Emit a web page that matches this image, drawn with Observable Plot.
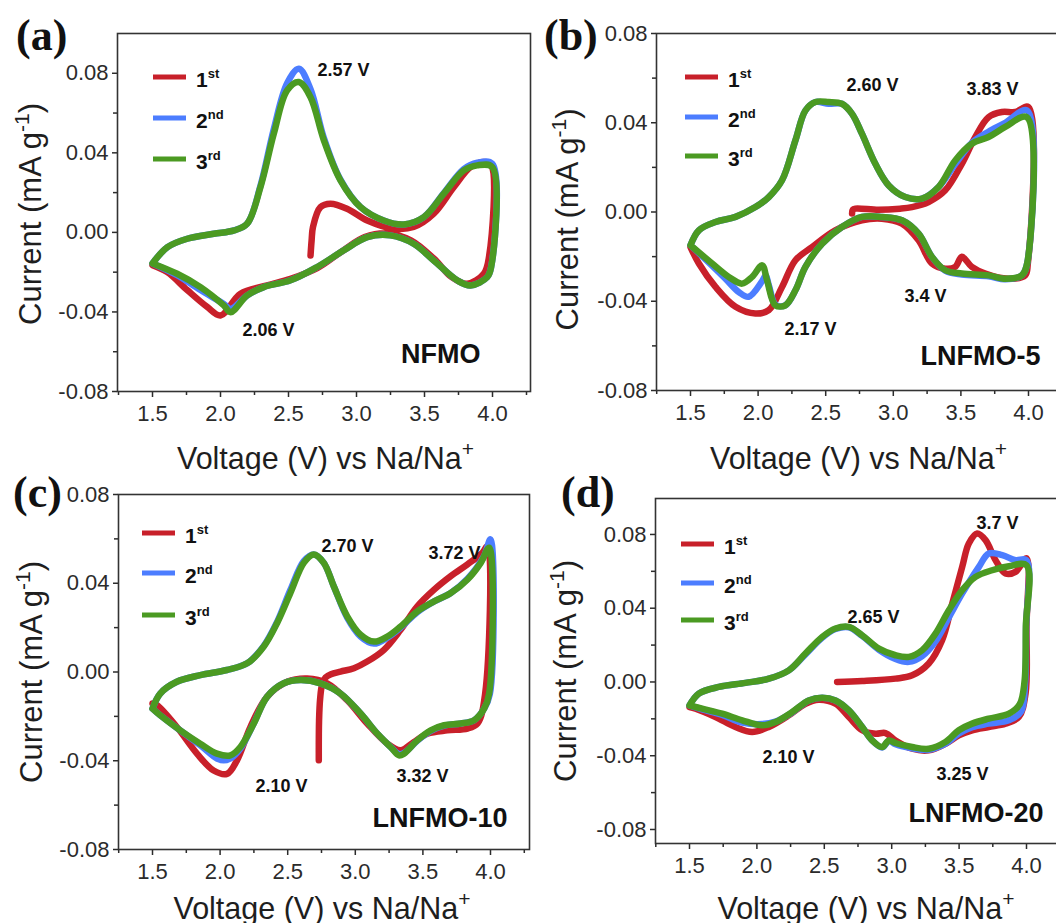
<!DOCTYPE html>
<html><head><meta charset="utf-8">
<script src="https://cdn.jsdelivr.net/npm/d3@7"></script>
<script src="https://cdn.jsdelivr.net/npm/@observablehq/plot@0.6"></script>
<style>
body{margin:0;background:#fff}
#fig{position:relative;width:1056px;height:923px;overflow:hidden;background:#fff;font-family:"Liberation Sans",Arial,sans-serif}
</style></head><body><div id="fig"></div>
<script>
// ---------- tick values / labels ----------
const xMajor = [1.5, 2.0, 2.5, 3.0, 3.5, 4.0];
const xMinor = [1.25, 1.75, 2.25, 2.75, 3.25, 3.75, 4.25];
const yMajor = [-0.08, -0.04, 0, 0.04, 0.08];
const yMinor = [-0.06, -0.02, 0.02, 0.06];
const cycleNames = ["1st", "2nd", "3rd"];
const cycleColors = ["#c8202a", "#4c7dff", "#4b9a22"];
const xLabel = "Voltage (V) vs Na/Na^{+}";
const yLabel = "Current (mA g^{-1})";

// ---------- (a) NFMO : [voltage V, current mA g-1] ----------
const a1 = [[2.662,-0.0116],[2.67,-0.004],[2.68,0.0027],[2.735,0.0127],[2.809,0.0144],[2.93,0.0119],[3.079,0.006],[3.274,0.0019],[3.42,0.0027],[3.568,0.0094],[3.716,0.0228],[3.838,0.0328],[3.936,0.0354],[3.99,0.034],[3.975,-0.012],[3.936,-0.0208],[3.814,-0.0258],[3.70,-0.0225],[3.568,-0.0131],[3.40,-0.004],[3.23,-0.0005],[3.06,-0.0024],[2.90,-0.0092],[2.711,-0.018],[2.515,-0.0234],[2.343,-0.0267],[2.147,-0.0308],[2.00,-0.0418],[1.902,-0.0375],[1.755,-0.029],[1.608,-0.020],[1.50,-0.0165]];
const a2 = [[1.50,-0.0156],[1.61,-0.0074],[1.755,-0.0032],[1.95,-0.0007],[2.10,0.0010],[2.196,0.0044],[2.294,0.0235],[2.392,0.052],[2.49,0.075],[2.576,0.0823],[2.662,0.072],[2.76,0.0475],[2.882,0.0265],[3.03,0.0127],[3.20,0.006],[3.348,0.004],[3.495,0.0077],[3.642,0.0198],[3.789,0.0318],[3.888,0.035],[3.998,0.0345],[3.99,-0.0174],[3.961,-0.0225],[3.838,-0.0267],[3.74,-0.0241],[3.568,-0.0141],[3.42,-0.0057],[3.25,-0.0015],[3.079,-0.0024],[2.907,-0.009],[2.711,-0.0174],[2.515,-0.0241],[2.318,-0.0275],[2.196,-0.0317],[2.074,-0.0385],[2.024,-0.036],[1.853,-0.029],[1.681,-0.0215],[1.50,-0.0156]];
const a3 = [[1.50,-0.0156],[1.61,-0.0074],[1.755,-0.0032],[1.95,-0.0007],[2.10,0.0010],[2.196,0.0044],[2.294,0.0228],[2.392,0.0496],[2.49,0.0714],[2.576,0.0756],[2.662,0.068],[2.76,0.0463],[2.882,0.0262],[3.03,0.0127],[3.20,0.006],[3.348,0.004],[3.495,0.0077],[3.642,0.0195],[3.789,0.0312],[3.888,0.0337],[3.998,0.0328],[3.99,-0.0174],[3.961,-0.0225],[3.838,-0.0267],[3.74,-0.0241],[3.568,-0.0141],[3.42,-0.0057],[3.25,-0.0015],[3.079,-0.0024],[2.907,-0.009],[2.711,-0.0174],[2.515,-0.0241],[2.318,-0.0275],[2.196,-0.0317],[2.074,-0.0401],[2.024,-0.0367],[1.853,-0.0275],[1.681,-0.0208],[1.50,-0.0156]];
const annA = [{v:2.904,i:0.0815,t:"2.57 V"},{v:2.353,i:-0.0493,t:"2.06 V"}];
const nameA = [{v:3.912,i:-0.0659,t:"NFMO"}];

// ---------- (b) LNFMO-5 ----------
const b1 = [[2.695,-0.0007],[2.70,0.0010],[2.72,0.0015],[2.89,0.001],[3.05,0.0015],[3.138,0.0022],[3.261,0.0045],[3.384,0.0097],[3.507,0.0216],[3.606,0.0336],[3.704,0.0425],[3.803,0.0448],[3.901,0.0448],[4.0,0.047],[3.995,-0.0231],[3.975,-0.0284],[3.85,-0.0299],[3.68,-0.0276],[3.581,-0.0246],[3.507,-0.0201],[3.458,-0.0246],[3.384,-0.0254],[3.286,-0.0231],[3.187,-0.0127],[3.064,-0.0052],[2.916,-0.003],[2.768,-0.0037],[2.571,-0.0082],[2.399,-0.0157],[2.276,-0.0216],[2.177,-0.0336],[2.079,-0.044],[1.98,-0.0455],[1.833,-0.0425],[1.685,-0.0336],[1.562,-0.0231],[1.50,-0.0157]];
const b2 = [[1.50,-0.0149],[1.562,-0.0082],[1.685,-0.0045],[1.833,-0.0022],[1.98,0.0022],[2.079,0.0067],[2.177,0.0142],[2.276,0.0321],[2.35,0.0455],[2.424,0.0493],[2.522,0.0485],[2.62,0.0485],[2.695,0.044],[2.768,0.0351],[2.867,0.0216],[2.966,0.0119],[3.089,0.0067],[3.212,0.006],[3.335,0.0112],[3.458,0.0215],[3.581,0.031],[3.704,0.036],[3.828,0.040],[3.99,0.0455],[3.99,-0.0231],[3.951,-0.0284],[3.828,-0.0301],[3.704,-0.0288],[3.507,-0.028],[3.384,-0.0263],[3.286,-0.0201],[3.187,-0.0097],[3.064,-0.0037],[2.916,-0.0022],[2.768,-0.0022],[2.62,-0.0067],[2.473,-0.0142],[2.35,-0.0246],[2.276,-0.0351],[2.202,-0.0418],[2.128,-0.0415],[2.08,-0.033],[2.055,-0.0285],[2.03,-0.031],[1.93,-0.038],[1.86,-0.036],[1.76,-0.030],[1.65,-0.0235],[1.50,-0.0149]];
const b3 = [[1.50,-0.0149],[1.562,-0.0082],[1.685,-0.0045],[1.833,-0.0022],[1.98,0.0022],[2.079,0.0067],[2.177,0.0142],[2.276,0.0321],[2.35,0.0455],[2.424,0.0493],[2.522,0.0493],[2.62,0.0485],[2.695,0.044],[2.768,0.0351],[2.867,0.0216],[2.966,0.0119],[3.089,0.0067],[3.212,0.006],[3.335,0.0112],[3.458,0.0231],[3.581,0.0306],[3.704,0.0336],[3.828,0.0381],[3.988,0.0425],[3.99,-0.0231],[3.951,-0.0284],[3.828,-0.0299],[3.704,-0.0284],[3.507,-0.0276],[3.384,-0.0261],[3.286,-0.0201],[3.187,-0.0097],[3.064,-0.0037],[2.916,-0.0022],[2.768,-0.0022],[2.62,-0.0067],[2.473,-0.0142],[2.35,-0.0246],[2.276,-0.0351],[2.202,-0.0418],[2.128,-0.0418],[2.066,-0.0306],[2.03,-0.0239],[1.956,-0.0291],[1.882,-0.0321],[1.783,-0.0291],[1.66,-0.0231],[1.50,-0.0149]];
const annB = [{v:2.846,i:0.0569,t:"2.60 V"},{v:3.734,i:0.0551,t:"3.83 V"},{v:2.388,i:-0.0524,t:"2.17 V"},{v:3.238,i:-0.0377,t:"3.4 V"}];
const nameB = [{v:4.089,i:-0.0686,t:"LNFMO-5"}];

// ---------- (c) LNFMO-10 ----------
const c1 = [[2.73,-0.0398],[2.732,-0.0217],[2.74,-0.012],[2.755,-0.0055],[2.78,-0.0025],[2.82,-0.001],[2.891,0.0002],[2.99,0.0017],[3.088,0.0047],[3.212,0.01],[3.335,0.019],[3.459,0.0296],[3.583,0.0371],[3.706,0.0432],[3.83,0.0485],[3.94,0.0537],[3.978,0.0568],[3.96,-0.01],[3.904,-0.0232],[3.83,-0.0255],[3.681,-0.0263],[3.533,-0.0278],[3.434,-0.0315],[3.335,-0.0353],[3.237,-0.0323],[3.088,-0.0232],[2.94,-0.0127],[2.792,-0.0051],[2.644,-0.0029],[2.496,-0.0044],[2.347,-0.0112],[2.224,-0.0248],[2.125,-0.0398],[2.051,-0.0459],[1.952,-0.0444],[1.829,-0.0368],[1.68,-0.0248],[1.532,-0.0149],[1.50,-0.0142]];
const c2 = [[1.50,-0.0165],[1.557,-0.0097],[1.68,-0.0044],[1.853,-0.0014],[2.05,0.0009],[2.20,0.0039],[2.323,0.0118],[2.421,0.0225],[2.52,0.037],[2.619,0.050],[2.693,0.053],[2.767,0.0492],[2.841,0.0386],[2.94,0.0245],[3.039,0.016],[3.138,0.0128],[3.237,0.0155],[3.335,0.020],[3.459,0.027],[3.583,0.0318],[3.706,0.0356],[3.83,0.042],[3.95,0.052],[4.0,0.0598],[3.995,-0.01],[3.953,-0.0165],[3.879,-0.0217],[3.78,-0.0232],[3.657,-0.0242],[3.558,-0.0266],[3.459,-0.031],[3.36,-0.0365],[3.323,-0.037],[3.261,-0.0338],[3.163,-0.0278],[3.039,-0.0187],[2.891,-0.0097],[2.743,-0.0051],[2.594,-0.0036],[2.471,-0.0051],[2.347,-0.0112],[2.249,-0.0232],[2.15,-0.0345],[2.076,-0.039],[2.026,-0.0398],[1.977,-0.039],[1.853,-0.033],[1.705,-0.0263],[1.557,-0.0195],[1.50,-0.0165]];
const c3 = [[1.50,-0.0165],[1.557,-0.0097],[1.68,-0.0044],[1.853,-0.0014],[2.05,0.0009],[2.20,0.0039],[2.323,0.0115],[2.421,0.022],[2.52,0.0356],[2.619,0.0492],[2.693,0.053],[2.767,0.0492],[2.841,0.0386],[2.94,0.0251],[3.039,0.0168],[3.138,0.0137],[3.237,0.016],[3.335,0.0205],[3.459,0.0273],[3.583,0.0318],[3.706,0.0356],[3.83,0.0417],[3.928,0.0492],[3.99,0.056],[3.99,-0.0097],[3.953,-0.0165],[3.879,-0.0217],[3.78,-0.0232],[3.657,-0.024],[3.558,-0.0263],[3.459,-0.0308],[3.36,-0.0368],[3.323,-0.0376],[3.261,-0.0338],[3.163,-0.0278],[3.039,-0.0187],[2.891,-0.0097],[2.743,-0.0051],[2.594,-0.0036],[2.471,-0.0051],[2.347,-0.0112],[2.249,-0.0232],[2.15,-0.0338],[2.076,-0.0376],[1.977,-0.0368],[1.853,-0.0323],[1.705,-0.0263],[1.557,-0.0195],[1.50,-0.0165]];
const annC = [{v:2.942,i:0.0568,t:"2.70 V"},{v:3.734,i:0.0536,t:"3.72 V"},{v:2.454,i:-0.0514,t:"2.10 V"},{v:3.497,i:-0.0469,t:"3.32 V"}];
const nameC = [{v:4.126,i:-0.0699,t:"LNFMO-10"}];

// ---------- (d) LNFMO-20 ----------
const d1 = [[2.595,0.0],[2.781,0.0005],[3.028,0.0018],[3.152,0.0036],[3.275,0.01],[3.374,0.0226],[3.449,0.0425],[3.523,0.0624],[3.572,0.0751],[3.634,0.0805],[3.696,0.0769],[3.77,0.0661],[3.844,0.0588],[3.918,0.0597],[4.0,0.067],[4.0,0.03],[3.993,-0.0063],[3.943,-0.019],[3.844,-0.0226],[3.72,-0.0244],[3.597,-0.0262],[3.498,-0.029],[3.399,-0.0335],[3.275,-0.0371],[3.152,-0.0362],[3.028,-0.0317],[2.954,-0.0277],[2.88,-0.0281],[2.781,-0.0262],[2.682,-0.019],[2.583,-0.0118],[2.459,-0.0096],[2.36,-0.0118],[2.237,-0.0181],[2.089,-0.0244],[1.965,-0.0271],[1.841,-0.0244],[1.693,-0.019],[1.545,-0.0145],[1.50,-0.0136]];
const d2 = [[1.50,-0.0127],[1.569,-0.0063],[1.718,-0.0027],[1.915,-0.0005],[2.089,0.0018],[2.237,0.0063],[2.36,0.015],[2.484,0.024],[2.583,0.0287],[2.682,0.0297],[2.781,0.025],[2.905,0.0175],[3.028,0.0125],[3.127,0.0109],[3.226,0.014],[3.325,0.022],[3.424,0.035],[3.523,0.048],[3.647,0.0624],[3.72,0.0697],[3.82,0.0688],[3.918,0.066],[4.0,0.066],[3.997,0.03],[3.99,0.0],[3.96,-0.016],[3.869,-0.0208],[3.72,-0.0226],[3.597,-0.0245],[3.498,-0.028],[3.399,-0.0335],[3.275,-0.0368],[3.152,-0.036],[3.028,-0.0338],[2.979,-0.032],[2.929,-0.0355],[2.855,-0.0317],[2.781,-0.0244],[2.682,-0.0154],[2.583,-0.01],[2.484,-0.0085],[2.385,-0.01],[2.262,-0.0165],[2.138,-0.0215],[2.039,-0.0228],[1.891,-0.022],[1.742,-0.0178],[1.594,-0.0148],[1.50,-0.0127]];
const d3v = [[1.50,-0.0127],[1.569,-0.0063],[1.718,-0.0027],[1.915,-0.0005],[2.089,0.0018],[2.237,0.0063],[2.36,0.0154],[2.484,0.0244],[2.583,0.029],[2.682,0.0299],[2.781,0.0253],[2.905,0.0181],[3.028,0.0145],[3.127,0.0136],[3.226,0.0172],[3.325,0.0262],[3.424,0.0389],[3.523,0.0498],[3.622,0.057],[3.745,0.0606],[3.869,0.0628],[4.0,0.0633],[3.995,0.03],[3.985,0.0],[3.95,-0.012],[3.87,-0.0172],[3.72,-0.0199],[3.597,-0.0226],[3.498,-0.0262],[3.399,-0.0326],[3.275,-0.0362],[3.152,-0.0353],[3.028,-0.0331],[2.979,-0.0317],[2.929,-0.0353],[2.855,-0.0317],[2.781,-0.0244],[2.682,-0.0154],[2.583,-0.01],[2.484,-0.0085],[2.385,-0.01],[2.262,-0.0163],[2.138,-0.0217],[2.039,-0.0235],[1.891,-0.0208],[1.742,-0.0172],[1.594,-0.0145],[1.50,-0.0127]];
const annD = [{v:3.785,i:0.0862,t:"3.7 V"},{v:2.865,i:0.0353,t:"2.65 V"},{v:2.234,i:-0.0407,t:"2.10 V"},{v:3.525,i:-0.0499,t:"3.25 V"}];
const nameD = [{v:4.126,i:-0.0759,t:"LNFMO-20"}];

// ---------- layout ----------
const panels = [
  {id:"a", cycles:[a1,a2,a3], ann:annA, name:nameA, left:0, top:0, ml:117, mt:33, pw:413, ph:358, mb:80,
   xdom:[1.2426,4.2794], ydom:[-0.08,0.1], xl:{dx:1.5,dy:77}, yl:{dx:-86,dy:1.5}, leg:{x:153,y:[77,118,159]}, letter:{x:16,y:50}},
  {id:"b", cycles:[b1,b2,b3], ann:annB, name:nameB, left:528, top:0, ml:128, mt:33, pw:402, ph:357, mb:80,
   xdom:[1.2485,4.2219], ydom:[-0.08,0.08], xl:{dx:1,dy:78}, yl:{dx:-88,dy:7.5}, leg:{x:685,y:[77,117,156]}, letter:{x:544,y:50}},
  {id:"c", cycles:[c1,c2,c3], ann:annC, name:nameC, left:0, top:460, ml:118, mt:34, pw:411, ph:355, mb:74,
   xdom:[1.2485,4.2885], ydom:[-0.08,0.08], xl:{dx:-2,dy:69}, yl:{dx:-86,dy:0}, leg:{x:142,y:[533,573,615]}, letter:{x:13,y:507}},
  {id:"d", cycles:[d1,d2,d3v], ann:annD, name:nameD, left:528, top:460, ml:127, mt:38, pw:405, ph:345, mb:80,
   xdom:[1.2478,4.2522], ydom:[-0.0876,0.0995], xl:{dx:8,dy:75}, yl:{dx:-89,dy:0}, leg:{x:681,y:[544,583,620]}, letter:{x:561,y:507}}
];

const fig = document.getElementById("fig");
const axisColor = "#2b2b2b";

function supify(svg){
  d3.select(svg).selectAll("text").each(function(){
    const t = this.textContent;
    const m = t.match(/^(.*)\^\{(.*)\}(.*)$/);
    if (!m) return;
    const el = d3.select(this);
    el.text(null);
    el.append("tspan").text(m[1]);
    el.append("tspan").attr("dy", -12.5).attr("font-size", 21).text(m[2]);
    if (m[3]) el.append("tspan").attr("dy", 12.5).text(m[3]);
  });
}

panels.forEach(p => {
  const inX = v => v >= p.xdom[0] - 1e-9 && v <= p.xdom[1] + 1e-9;
  const inY = v => v >= p.ydom[0] - 1e-9 && v <= p.ydom[1] + 1e-9;
  const chart = Plot.plot({
    width: p.ml + p.pw + 3,
    height: p.mt + p.ph + p.mb,
    marginLeft: p.ml, marginTop: p.mt, marginRight: 3, marginBottom: p.mb,
    x: {domain: p.xdom, type: "linear"},
    y: {domain: p.ydom, type: "linear"},
    style: {background: "transparent", overflow: "visible", fontFamily: "'Liberation Sans', Arial, sans-serif", maxWidth: "none"},
    marks: [
      Plot.axisX({ticks: xMajor.filter(inX), tickSize: 6, tickPadding: 8, tickFormat: d => d.toFixed(1), fontSize: 22, color: axisColor, strokeWidth: 1.5, label: null}),
      Plot.axisX({ticks: xMinor.filter(inX), tickSize: 4, tickFormat: () => "", color: axisColor, strokeWidth: 1.5, label: null}),
      Plot.axisY({ticks: yMajor.filter(inY), tickSize: 5, tickPadding: 4, tickFormat: d => d.toFixed(2), fontSize: 22, color: axisColor, strokeWidth: 1.5, label: null}),
      Plot.axisY({ticks: yMinor.filter(inY), tickSize: 4, tickFormat: () => "", color: axisColor, strokeWidth: 1.5, label: null}),
      ...p.cycles.map((c, k) => Plot.line(c, {x: d => d[0], y: d => d[1], stroke: cycleColors[k], strokeWidth: 6.5, curve: "catmull-rom", strokeLinejoin: "round", strokeLinecap: "round"})),
      Plot.frame({stroke: "#333", strokeWidth: 1.6}),
      Plot.text(p.ann, {x: "v", y: "i", text: "t", fontSize: 18, fontWeight: "bold", fill: "#111", lineAnchor: "middle"}),
      Plot.text(p.name, {x: "v", y: "i", text: "t", fontSize: 27, fontWeight: "bold", fill: "#111", textAnchor: "end", lineAnchor: "bottom"}),
      Plot.text([xLabel], {text: d => d, frameAnchor: "bottom", textAnchor: "middle", dx: p.xl.dx, dy: p.xl.dy, fontSize: 30.5, fill: "#1e1e1e", lineAnchor: "bottom"}),
      Plot.text([yLabel], {text: d => d, frameAnchor: "left", textAnchor: "middle", rotate: -90, dx: p.yl.dx, dy: p.yl.dy, fontSize: 31, fill: "#1e1e1e", lineAnchor: "middle"})
    ]
  });
  supify(chart);
  chart.style.position = "absolute";
  chart.style.left = p.left + "px";
  chart.style.top = p.top + "px";
  fig.appendChild(chart);
});

// ---------- legends & panel letters ----------
const ov = d3.select(fig).append("svg").attr("width", 1056).attr("height", 923)
  .style("position", "absolute").style("left", 0).style("top", 0).style("pointer-events", "none");
panels.forEach(p => {
  const g = ov.append("g").attr("font-family", "'Liberation Sans', Arial, sans-serif");
  cycleNames.forEach((nm, k) => {
    const y = p.leg.y[k];
    g.append("line").attr("x1", p.leg.x).attr("x2", p.leg.x + 33).attr("y1", y).attr("y2", y)
      .attr("stroke", cycleColors[k]).attr("stroke-width", 5);
    const t = g.append("text").attr("x", p.leg.x + 43).attr("y", y + 10).attr("font-size", 21).attr("font-weight", "bold").attr("fill", "#111");
    t.append("tspan").text(nm[0]);
    t.append("tspan").attr("dy", -9).attr("font-size", 13).text(nm.slice(1));
  });
  ov.append("text").attr("x", p.letter.x).attr("y", p.letter.y)
    .attr("font-family", "'Liberation Serif', 'Times New Roman', serif").attr("font-weight", "bold")
    .attr("font-size", 44).attr("fill", "#111").text(`(${p.id})`);
});
</script>
</body></html>
